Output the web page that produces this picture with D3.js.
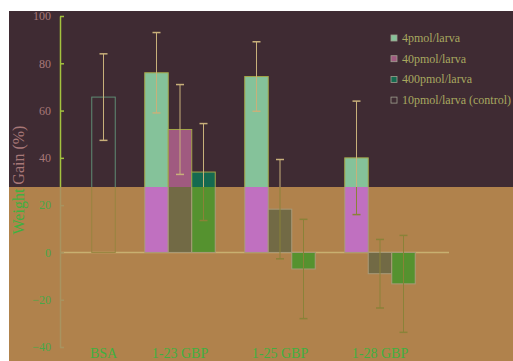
<!DOCTYPE html>
<html>
<head>
<meta charset="utf-8">
<script src="https://cdn.jsdelivr.net/npm/d3@7"></script>
<style>
  body { margin: 0; background: #fff; }
  svg text { font-family: "Liberation Serif", "Times New Roman", "DejaVu Serif", serif; }
</style>
</head>
<body>
<div id="chart"></div>
<script>
// data
const categories = ["BSA", "1-23 GBP", "1-25 GBP", "1-28 GBP"];
const series = ["4pmol/larva", "40pmol/larva", "400pmol/larva"];
const means4 = [null, 76, 74.4, 40];
const errs4 = [null, 17, 14.7, 24];
const means40 = [null, 52, 18.3, -9];
const errs40 = [null, 19, 21, 14.5];
const means400 = [null, 34, -7, -13.3];
const errs400 = [null, 20.5, 21, 20.5];
const controlLabel = "10pmol/larva (control)";
const controlMean = [65.7];
const controlErr = [18.3];
const yTicks = [-40, -20, 0, 20, 40, 60, 80, 100];

const W = 513, H = 361;
const splitY = 187;

// two looks, one above the split and one below
const palettes = {
    top: {bg: "#3f2b33", fills: ["#85c29a", "#a05a80", "#156a50"], barStroke: "#a3a548",
          control: "#5f8c74", err: "#c8b07a", axis: "#a4c23e", tick: "#a87878", title: "#a87878",
          cat: "#40b040", zero: "#c0a868"},
    bottom: {bg: "#b0824c", fills: ["#c070c0", "#726a45", "#55922f"], barStroke: "#a89a78",
          control: "#97843f", err: "#8a8238", axis: "#a89460", tick: "#48a848", title: "#40b040",
          cat: "#40b040", zero: "#c8b070"}
};

const svg = d3.select("#chart").append("svg")
    .attr("width", W)
    .attr("height", H);

const defs = svg.append("defs");
defs.append("clipPath").attr("id", "clip-top")
    .append("rect").attr("x", 9).attr("y", 11).attr("width", W - 9).attr("height", splitY - 11);
defs.append("clipPath").attr("id", "clip-bottom")
    .append("rect").attr("x", 9).attr("y", splitY).attr("width", W - 9).attr("height", H - splitY);

const y = d3.scaleLinear().domain([-40, 100]).range([347, 16]);

const x0 = d3.scaleBand()
    .domain(categories)
    .range([30, 430])
    .paddingInner(0.295)
    .paddingOuter(0.1475);

const x1 = d3.scaleBand()
    .domain(series)
    .range([0, x0.bandwidth()]);

const means = [means4, means40, means400];
const errs = [errs4, errs40, errs400];

let bars = [];
series.forEach((s, si) => {
    categories.forEach((c, ci) => {
        if (means[si][ci] !== null) {
            bars.push({cat: c, s: s, si: si, v: means[si][ci], e: errs[si][ci]});
        }
    });
});

function drawRegion(key) {
    let p = palettes[key];
    let g = svg.append("g").attr("clip-path", `url(#clip-${key})`);

    g.append("rect")
        .attr("x", 0).attr("y", 0)
        .attr("width", W).attr("height", H)
        .attr("fill", p.bg);

    // zero line
    g.append("line")
        .attr("x1", 60).attr("x2", 449)
        .attr("y1", y(0)).attr("y2", y(0))
        .attr("stroke", p.zero)
        .attr("stroke-width", 1.5);

    // control bar (sits in the last slot of the BSA group)
    let cx = x0("BSA") + x1(series[2]);
    g.append("rect")
        .attr("x", cx)
        .attr("y", y(controlMean[0]))
        .attr("width", x1.bandwidth())
        .attr("height", y(0) - y(controlMean[0]))
        .attr("fill", "none")
        .attr("stroke", p.control)
        .attr("stroke-width", 1);

    g.selectAll(".bar")
        .data(bars)
        .enter().append("rect")
        .attr("class", "bar")
        .attr("x", d => x0(d.cat) + x1(d.s))
        .attr("y", d => y(Math.max(0, d.v)))
        .attr("width", x1.bandwidth())
        .attr("height", d => Math.abs(y(d.v) - y(0)))
        .attr("fill", d => p.fills[d.si])
        .attr("stroke", p.barStroke)
        .attr("stroke-width", 1);

    // error bars
    let errData = bars.concat([{cat: "BSA", s: series[2], v: controlMean[0], e: controlErr[0]}]);
    let eg = g.selectAll(".err")
        .data(errData)
        .enter().append("g")
        .attr("class", "err")
        .attr("transform", d => `translate(${x0(d.cat) + x1(d.s) + x1.bandwidth() / 2},0)`);
    eg.append("line")
        .attr("y1", d => y(d.v + d.e)).attr("y2", d => y(d.v - d.e))
        .attr("stroke", p.err);
    eg.append("line")
        .attr("x1", -4).attr("x2", 4)
        .attr("y1", d => y(d.v + d.e)).attr("y2", d => y(d.v + d.e))
        .attr("stroke", p.err).attr("stroke-width", 1.5);
    eg.append("line")
        .attr("x1", -4).attr("x2", 4)
        .attr("y1", d => y(d.v - d.e)).attr("y2", d => y(d.v - d.e))
        .attr("stroke", p.err).attr("stroke-width", 1.5);

    // y axis
    let yAxis = d3.axisLeft(y)
        .tickValues(yTicks)
        .tickSizeInner(-4)
        .tickSizeOuter(0)
        .tickPadding(9);
    let ax = g.append("g")
        .attr("transform", "translate(60,0)")
        .call(yAxis);
    ax.attr("font-family", null);
    ax.select(".domain").attr("stroke", p.axis).attr("stroke-width", 1.5);
    ax.selectAll(".tick line").attr("stroke", p.axis).attr("stroke-width", 1.5);
    ax.selectAll(".tick text")
        .attr("fill", p.tick)
        .style("font-size", "12px");

    // axis title
    g.append("text")
        .attr("transform", "translate(24,180) rotate(-90)")
        .attr("text-anchor", "middle")
        .attr("fill", p.title)
        .style("font-size", "16px")
        .text("Weight Gain (%)");

    // category labels
    g.selectAll(".cat")
        .data(categories)
        .enter().append("text")
        .attr("class", "cat")
        .attr("x", d => d === "BSA" ? cx + x1.bandwidth() / 2 : x0(d) + x0.bandwidth() / 2)
        .attr("y", 358)
        .attr("text-anchor", "middle")
        .attr("fill", p.cat)
        .style("font-size", "14px")
        .text(d => d);

    // legend
    let legendItems = series.concat([controlLabel]);
    let lg = g.append("g").attr("transform", "translate(391,35)");
    legendItems.forEach((t, i) => {
        lg.append("rect")
            .attr("x", 0).attr("y", i * 20.7)
            .attr("width", 6).attr("height", 6)
            .attr("fill", i < 3 ? p.fills[i] : "none")
            .attr("stroke", "#a0a090")
            .attr("stroke-width", 0.8);
        lg.append("text")
            .attr("x", 11).attr("y", i * 20.7 + 7)
            .attr("fill", "#a8a860")
            .style("font-size", "12px")
            .text(t);
    });
}

drawRegion("top");
drawRegion("bottom");
</script>
</body>
</html>
